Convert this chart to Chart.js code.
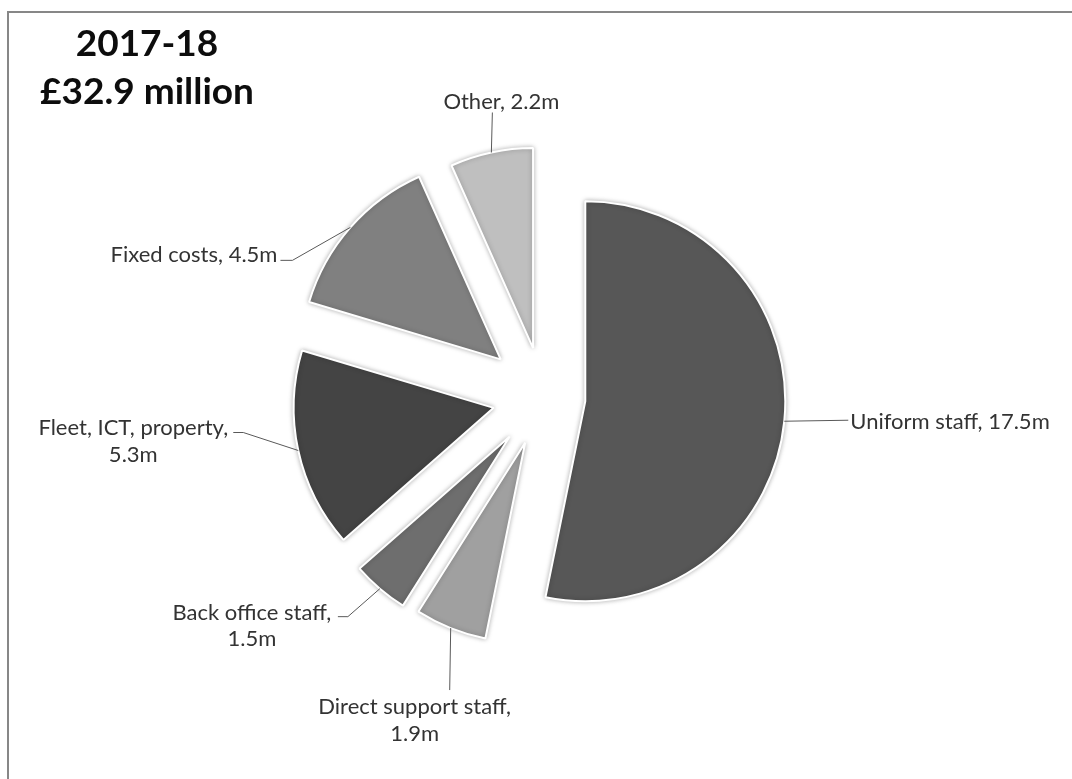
<!DOCTYPE html>
<html>
<head>
<meta charset="utf-8">
<script src="https://cdn.jsdelivr.net/npm/chart.js@4"></script>
<style>
  html, body { margin: 0; padding: 0; background: #fff; }
  #wrap { width: 1072px; height: 779px; position: relative; }
</style>
</head>
<body>
<div id="wrap"><canvas id="budgetChart" width="1072" height="779"></canvas></div>
<script>
const categories = ['Uniform staff', 'Direct support staff', 'Back office staff', 'Fleet, ICT, property', 'Fixed costs', 'Other'];
const values = [17.5, 1.9, 1.5, 5.3, 4.5, 2.2];
const titleLines = ['2017-18', '£32.9 million'];

const sliceColors = ['#575757', '#a0a0a0', '#6e6e6e', '#444444', '#808080', '#bfbfbf'];
const explode = [42, 49, 52, 51, 57, 50];

// label layout relative to the slice's outer mid point: leader line points, text anchor, alignment, line breaks
const labelLayout = [
    { line: [[64, -1]], text: [66, 0], align: 'left', lines: ['Uniform staff, 17.5m'] },
    { line: [[-1, 62]], text: [-36, 78.5], align: 'center', lines: ['Direct support staff,', '1.9m'] },
    { line: [[-32, 28], [-42, 28]], text: [-128, 23], align: 'center', lines: ['Back office staff,', '1.5m'] },
    { line: [[-55, -18], [-65, -18]], text: [-165, -23], align: 'center', lines: ['Fleet, ICT, property,', '5.3m'] },
    { line: [[-58, 33], [-70, 33]], text: [-73, 26.5], align: 'right', lines: ['Fixed costs, 4.5m'] },
    { line: [[1, -40]], text: [10, -51.5], align: 'center', lines: ['Other, 2.2m'] }
];

const FONT = 'Lato, "Open Sans", sans-serif';
const LABEL_SIZE = 22;
const LINE_GAP = 26.5;
const TITLE_SIZE = 37;

const explodedPie = {
    id: 'explodedPie',
    beforeDraw(chart) {
        const ctx = chart.ctx;
        ctx.save();
        ctx.strokeStyle = '#878787';
        ctx.lineWidth = 2;
        ctx.beginPath();
        ctx.moveTo(8, 779);
        ctx.lineTo(8, 12);
        ctx.lineTo(1072, 12);
        ctx.stroke();
        ctx.restore();
    },
    beforeDatasetDraw(chart, args) {
        const ctx = chart.ctx;
        args.meta.data.forEach((arc, i) => {
            const mid = (arc.startAngle + arc.endAngle) / 2;
            ctx.save();
            ctx.translate(Math.cos(mid) * explode[i], Math.sin(mid) * explode[i]);
            ctx.shadowColor = 'rgba(0,0,0,0.28)';
            ctx.shadowBlur = 5;
            arc.draw(ctx);
            ctx.restore();
        });
        return false;
    },
    afterDatasetsDraw(chart) {
        const ctx = chart.ctx;
        const meta = chart.getDatasetMeta(0);
        ctx.save();
        meta.data.forEach((arc, i) => {
            const mid = (arc.startAngle + arc.endAngle) / 2;
            const r = arc.outerRadius + explode[i];
            const ex = arc.x + Math.cos(mid) * r;
            const ey = arc.y + Math.sin(mid) * r;
            const lay = labelLayout[i];

            ctx.strokeStyle = '#595959';
            ctx.lineWidth = 1;
            ctx.beginPath();
            ctx.moveTo(ex, ey);
            lay.line.forEach(p => ctx.lineTo(ex + p[0], ey + p[1]));
            ctx.stroke();

            ctx.fillStyle = '#333333';
            ctx.font = LABEL_SIZE + 'px ' + FONT;
            ctx.textAlign = lay.align;
            ctx.textBaseline = 'alphabetic';
            lay.lines.forEach((t, k) => {
                const cy = ey + lay.text[1] + k * LINE_GAP;
                ctx.fillText(t, ex + lay.text[0], cy + LABEL_SIZE * 0.36);
            });
        });
        ctx.restore();
    },
    afterDraw(chart) {
        const ctx = chart.ctx;
        ctx.save();
        ctx.fillStyle = '#0d0d0d';
        ctx.font = 'bold ' + TITLE_SIZE + 'px ' + FONT;
        ctx.textAlign = 'center';
        ctx.textBaseline = 'alphabetic';
        ctx.fillText(titleLines[0], 147, 43 + TITLE_SIZE * 0.36);
        ctx.fillText(titleLines[1], 147, 91 + TITLE_SIZE * 0.36);
        ctx.restore();
    }
};

document.addEventListener('DOMContentLoaded', function() {
    const ctx = document.getElementById('budgetChart').getContext('2d');
    new Chart(ctx, {
        type: 'pie',
        data: {
            labels: categories,
            datasets: [{
                data: values,
                backgroundColor: sliceColors,
                borderColor: '#ffffff',
                borderWidth: 2,
                radius: 200
            }]
        },
        options: {
            responsive: false,
            animation: false,
            layout: { padding: { left: 15, top: 15, right: 0, bottom: 0 } },
            plugins: {
                legend: { display: false },
                tooltip: { enabled: false },
                title: { display: false }
            }
        },
        plugins: [explodedPie]
    });
});
</script>
</body>
</html>
